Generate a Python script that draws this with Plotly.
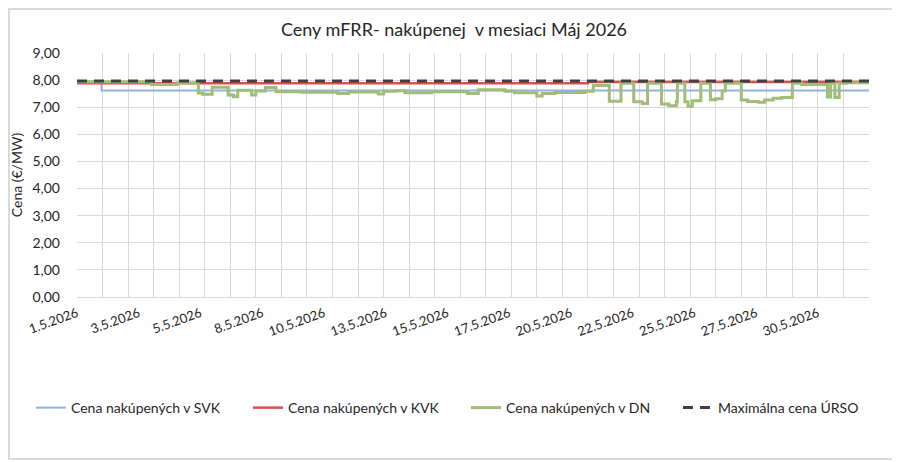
import plotly.graph_objects as go

# hours since 1.5.2026 00:00 where the value changes (step data), and the value from then on
month_hours = 744

svk_hours = [0, 23]
svk_values = [7.95, 7.62]

kvk_hours = [0, 480]
kvk_values = [7.88, 7.93]

dn_hours = [0, 70, 94, 114, 118, 127, 142, 147, 151, 164, 168, 177, 187, 211, 245,
            255, 283, 288, 299, 308, 333, 367, 377, 402, 411, 432, 437, 449, 477, 485,
            500, 511, 523, 531, 536, 549, 556, 563, 564, 571, 574, 578, 586, 595, 600,
            606, 609, 624, 630, 640, 646, 654, 662, 672, 681, 705, 708, 712, 716, 723]
dn_values = [7.94, 7.84, 7.90, 7.52, 7.48, 7.74, 7.45, 7.39, 7.63, 7.45, 7.60, 7.73, 7.57, 7.55, 7.51,
             7.56, 7.49, 7.59, 7.61, 7.53, 7.57, 7.51, 7.64, 7.59, 7.53, 7.41, 7.51, 7.54, 7.59, 7.80,
             7.22, 7.88, 7.20, 7.14, 7.88, 7.12, 7.05, 7.20, 7.88, 7.20, 7.04, 7.24, 7.88, 7.28, 7.31,
             7.60, 7.88, 7.27, 7.21, 7.18, 7.27, 7.33, 7.36, 7.88, 7.84, 7.38, 7.88, 7.36, 7.88, 7.90]

ursko_hours = [0]
ursko_values = [7.97]

tick_hours = [0, 58, 116, 174, 232, 290, 348, 406, 464, 522, 580, 638, 696]
tick_labels = ["1.5.2026", "3.5.2026", "5.5.2026", "8.5.2026", "10.5.2026", "13.5.2026",
               "15.5.2026", "17.5.2026", "20.5.2026", "22.5.2026", "25.5.2026", "27.5.2026",
               "30.5.2026"]


def steps(hours, values):
    # close the last step at the end of the month
    return hours + [month_hours], values + [values[-1]]


fig = go.Figure()

x, y = steps(svk_hours, svk_values)
fig.add_trace(go.Scatter(x=x, y=y, mode="lines", line_shape="hv", name="Cena nakúpených v SVK",
                         legend="legend", line=dict(color="#8DB4E2", width=2)))
x, y = steps(kvk_hours, kvk_values)
fig.add_trace(go.Scatter(x=x, y=y, mode="lines", line_shape="hv", name="Cena nakúpených v KVK",
                         legend="legend2", line=dict(color="#DC4E4E", width=2.5)))
x, y = steps(dn_hours, dn_values)
fig.add_trace(go.Scatter(x=x, y=y, mode="lines", line_shape="hv", name="Cena nakúpených v DN",
                         legend="legend3", line=dict(color="#A0BC77", width=3)))
x, y = steps(ursko_hours, ursko_values)
fig.add_trace(go.Scatter(x=x, y=y, mode="lines", line_shape="hv", name="Maximálna cena ÚRSO",
                         legend="legend4", line=dict(color="#404040", width=3, dash="10px,7px")))

legend_style = dict(orientation="h", y=-0.455, yanchor="middle", xanchor="left",
                    font=dict(size=14), bgcolor="rgba(0,0,0,0)")

# the page body has an 8px margin, so the figure is 8px smaller than the window
fig.update_layout(
    width=892, height=454,
    margin=dict(l=69, r=31, t=45, b=165),
    paper_bgcolor="white", plot_bgcolor="white",
    font=dict(family="Lato", size=14, color="#262626"),
    separators=", ",
    title=dict(text="Ceny mFRR- nakúpenej  v mesiaci Máj 2026", x=0.5, xanchor="center",
               y=0.9515, yanchor="middle", automargin=False, font=dict(size=18, color="#262626")),
    showlegend=True,
    legend=dict(x=-0.0581, **legend_style),
    legend2=dict(x=0.2159, **legend_style),
    legend3=dict(x=0.4912, **legend_style),
    legend4=dict(x=0.7588, **legend_style),
    shapes=[dict(type="rect", xref="paper", yref="paper", x0=-0.0859, x1=1.0366, y0=-0.664, y1=1.18,
                 line=dict(color="#D9D9D9", width=2), layer="below")],
)

fig.update_xaxes(
    range=[0, month_hours], automargin=False,
    tickmode="array", tickvals=tick_hours, ticktext=tick_labels, tickangle=-20,
    showgrid=False, zeroline=False,
    showline=True, linecolor="#D9D9D9", linewidth=1,
    ticks="", tickfont=dict(size=13), ticklabelstandoff=3,
    minor=dict(tickmode="linear", tick0=0, dtick=24, showgrid=True, gridcolor="#D9D9D9", gridwidth=1),
)
fig.update_yaxes(
    range=[0, 9], dtick=1, tickformat=".2f", automargin=False,
    title=dict(text="Cena (€/MW)", font=dict(size=14), standoff=10),
    showgrid=True, gridcolor="#D9D9D9", gridwidth=1, zeroline=False,
    showline=False, ticks="", tickfont=dict(size=14), ticklabelstandoff=16,
)

fig.write_html("out.html")
